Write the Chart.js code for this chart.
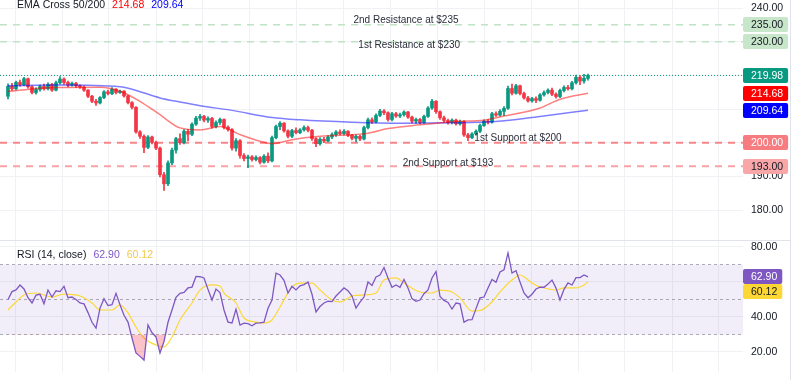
<!DOCTYPE html>
<html>
<head>
<meta charset="utf-8">
<script src="https://cdn.jsdelivr.net/npm/chart.js@4.4.1/dist/chart.umd.min.js"></script>
<style>
  html, body { margin: 0; padding: 0; background: #fff; }
  #wrap { width: 800px; height: 380px; overflow: hidden; }
  canvas { display: block; }
</style>
</head>
<body>
<div id="wrap">
  <canvas id="priceChart" width="800" height="240"></canvas>
  <canvas id="rsiChart" width="800" height="140"></canvas>
</div>
<script>
// daily candles, bar index 0..145
const opens = [
  213.8, 216.8, 216.0, 217.9, 217.2, 219.0, 216.6, 214.9, 215.8, 216.7,
  216.0, 217.3, 215.6, 217.8, 218.9, 217.9, 217.1, 217.6, 216.9, 216.5,
  215.6, 213.8, 212.3, 211.8, 213.4, 215.1, 214.6, 215.9, 214.9, 215.3,
  213.9, 211.9, 210.5, 203.2, 201.9, 198.6, 201.7, 200.1, 198.4, 190.5,
  187.8, 194.0, 197.8, 201.2, 200.0, 203.4, 202.5, 205.5, 207.3, 207.8,
  206.7, 207.2, 204.8, 206.0, 206.9, 204.6, 203.9, 198.4, 200.6, 196.2,
  195.3, 195.8, 195.0, 195.6, 194.2, 196.0, 194.6, 201.5, 204.8, 205.8,
  203.5, 201.9, 203.6, 203.0, 203.8, 204.5, 203.7, 201.2, 199.7, 201.0,
  200.5, 201.7, 202.4, 203.2, 202.7, 203.4, 202.2, 201.3, 201.9, 201.1,
  204.5, 206.8, 206.2, 208.1, 209.4, 208.9, 206.9, 208.6, 207.9, 208.3,
  209.1, 207.6, 206.4, 206.9, 206.0, 207.8, 210.3, 212.3, 209.2, 207.4,
  206.6, 206.0, 206.7, 205.6, 206.3, 202.3, 201.5, 202.6, 203.4, 205.1,
  206.4, 206.1, 208.6, 208.2, 209.3, 210.2, 216.1, 214.7, 216.9, 214.6,
  213.3, 212.4, 213.1, 212.6, 214.2, 214.9, 215.6, 214.4, 213.7, 215.5,
  216.4, 216.0, 217.8, 219.4, 218.3, 219.1
];
const highs = [
  217.5, 217.6, 218.3, 218.6, 219.4, 219.2, 216.9, 216.3, 217.1, 217.4,
  217.8, 217.6, 218.3, 219.6, 219.3, 218.3, 218.0, 217.9, 217.2, 216.8,
  215.8, 214.1, 212.9, 213.7, 215.5, 215.6, 216.4, 216.1, 215.6, 215.5,
  214.1, 212.2, 210.7, 203.6, 202.3, 202.1, 202.0, 200.5, 198.7, 191.2,
  194.6, 198.4, 201.6, 202.6, 203.9, 204.0, 205.9, 207.8, 208.4, 208.1,
  207.7, 207.5, 206.5, 207.3, 207.1, 205.0, 204.2, 201.2, 200.9, 196.8,
  196.3, 196.2, 196.1, 195.9, 196.5, 197.0, 202.0, 205.2, 206.3, 206.0,
  203.8, 204.0, 204.4, 204.2, 205.0, 204.9, 204.0, 201.5, 201.5, 201.6,
  202.1, 202.9, 203.6, 203.8, 203.9, 203.6, 202.5, 202.3, 202.2, 204.9,
  207.3, 207.4, 208.6, 209.9, 209.8, 209.2, 209.0, 209.0, 208.8, 209.5,
  209.3, 207.9, 207.3, 207.2, 208.2, 210.7, 212.9, 212.5, 209.5, 207.9,
  207.0, 207.1, 207.0, 206.7, 206.6, 202.8, 203.0, 203.8, 205.5, 206.8,
  206.9, 209.0, 209.2, 209.8, 210.7, 216.8, 217.4, 217.3, 217.1, 215.0,
  213.8, 213.5, 213.6, 214.6, 215.4, 216.0, 216.2, 214.8, 215.9, 216.9,
  217.0, 218.2, 220.1, 219.9, 220.3, 220.4
];
const lows = [
  213.0, 215.5, 215.7, 216.8, 216.9, 216.2, 214.5, 214.4, 215.3, 215.6,
  215.7, 215.2, 215.4, 217.4, 217.3, 216.6, 216.8, 216.4, 216.1, 215.2,
  213.4, 211.9, 211.1, 211.5, 213.1, 214.2, 214.3, 214.5, 214.6, 213.5,
  211.5, 210.0, 202.8, 201.3, 197.0, 198.2, 199.6, 197.9, 189.8, 185.8,
  187.2, 193.5, 196.9, 199.5, 199.6, 200.5, 202.1, 205.1, 206.6, 206.2,
  206.0, 204.3, 204.4, 205.4, 204.1, 203.4, 197.8, 197.5, 195.4, 194.6,
  192.6, 194.5, 194.6, 193.7, 193.9, 194.1, 194.3, 201.1, 203.9, 203.1,
  201.4, 201.5, 202.6, 202.7, 203.4, 203.2, 200.7, 198.8, 199.3, 200.0,
  200.2, 201.2, 201.9, 202.3, 202.3, 201.8, 200.8, 200.2, 200.6, 200.8,
  204.1, 205.7, 205.9, 207.7, 208.3, 206.4, 206.5, 207.5, 207.4, 207.9,
  207.2, 205.9, 205.8, 205.6, 205.7, 207.5, 209.9, 208.7, 206.9, 206.1,
  205.5, 205.6, 205.2, 205.2, 201.9, 200.6, 201.2, 202.2, 203.0, 204.8,
  205.6, 205.8, 207.8, 207.9, 208.0, 209.9, 214.2, 214.4, 214.2, 212.9,
  212.0, 212.0, 211.9, 212.3, 213.8, 214.5, 214.0, 213.2, 213.4, 215.1,
  215.6, 215.7, 217.4, 217.2, 217.7, 218.6
];
const closes = [
  216.8, 216.0, 217.9, 217.2, 219.0, 216.6, 214.9, 215.8, 216.7, 216.0,
  217.3, 215.6, 217.8, 218.9, 217.9, 217.1, 217.6, 216.9, 216.5, 215.6,
  213.8, 212.3, 211.8, 213.4, 215.1, 214.6, 215.9, 214.9, 215.3, 213.9,
  211.9, 210.5, 203.2, 201.9, 198.6, 201.7, 200.1, 198.4, 190.5, 187.8,
  194.0, 197.8, 201.2, 200.0, 203.4, 202.5, 205.5, 207.3, 207.8, 206.7,
  207.2, 204.8, 206.0, 206.9, 204.6, 203.9, 198.4, 200.6, 196.2, 195.3,
  195.8, 195.0, 195.6, 194.2, 196.0, 194.6, 201.5, 204.8, 205.8, 203.5,
  201.9, 203.6, 203.0, 203.8, 204.5, 203.7, 201.2, 199.7, 201.0, 200.5,
  201.7, 202.4, 203.2, 202.7, 203.4, 202.2, 201.3, 201.9, 201.1, 204.5,
  206.8, 206.2, 208.1, 209.4, 208.9, 206.9, 208.6, 207.9, 208.3, 209.1,
  207.6, 206.4, 206.9, 206.0, 207.8, 210.3, 212.3, 209.2, 207.4, 206.6,
  206.0, 206.7, 205.6, 206.3, 202.3, 201.5, 202.6, 203.4, 205.1, 206.4,
  206.1, 208.6, 208.2, 209.3, 210.2, 216.1, 214.7, 216.9, 214.6, 213.3,
  212.4, 213.1, 212.6, 214.2, 214.9, 215.6, 214.4, 213.7, 215.5, 216.4,
  216.0, 217.8, 219.4, 218.3, 219.1, 219.98
];

// EMA 50 / EMA 200, read at these bar indexes
const ema50Idx = [0, 8, 14, 23, 28, 33, 38, 43, 48, 53, 58, 63, 66, 71, 78, 90, 95, 103, 112, 119, 124, 133, 138, 145];
const ema50Val = [215.2, 216.2, 216.4, 216.5, 215.3, 212.3, 208.3, 204.4, 203.8, 204.8, 202.4, 200.4, 199.7, 200.9, 201.9, 202.8, 204.2, 205.3, 206.3, 206.7, 207.9, 210.3, 212.9, 214.68];
const ema200Idx = [0, 13, 28, 31, 38, 43, 48, 56, 66, 73, 86, 98, 111, 121, 133, 145];
const ema200Val = [216.9, 217.1, 216.6, 215.9, 213.3, 212.1, 211.0, 209.6, 207.5, 206.8, 206.1, 205.8, 205.9, 206.2, 207.8, 209.64];

// support / resistance levels
const levels = [235, 230, 200, 193];
const levelNames = ['2nd Resistance at $235', '1st Resistance at $230', '1st Support at $200', '2nd Support at $193'];

// RSI(14) per bar, and its moving average read at these bar indexes
const rsiValues = [
  50, 54.5, 55.5, 58.3, 56, 51, 48, 52.5, 53, 47.5,
  55.4, 51.4, 55, 54.5, 57.5, 51, 51.4, 50, 48, 47.5,
  42.5, 37, 33.7, 45.1, 50.5, 46.5, 47, 53.5, 47, 41,
  37.1, 28, 19.5, 17.5, 15.4, 35.4, 31, 28.6, 19.4, 26,
  37, 44, 51.2, 53.5, 54, 56.6, 57.1, 63.2, 63, 62.3,
  55.8, 49.7, 56, 54, 44, 37.1, 36.6, 44.5, 35.4, 36.5,
  36.2, 35, 36.5, 36.6, 37, 45, 49.7, 65, 64, 61,
  53.7, 57.5, 55.5, 57.8, 58.5, 60, 53, 42.9, 46, 48,
  49, 48.8, 52, 54.3, 56.6, 55, 52, 45.1, 48.5, 51.4,
  60, 58, 62.9, 64, 68.3, 62.3, 57, 58.3, 57, 61.5,
  56.6, 50.5, 49, 49.7, 53.3, 55.5, 62.3, 66, 51.8, 49.5,
  48.3, 44.5, 48, 47.5, 37, 38.3, 38.5, 44.8, 50.9, 51.4,
  56.6, 61.4, 59.8, 65.7, 67, 76.6, 65.1, 66.5, 60, 53.7,
  51, 53, 56, 57.1, 57, 58.8, 61.1, 56.5, 49.7, 55.8,
  59.5, 58.3, 62.5, 62.5, 64, 62.9
];
const rsiMaIdx = [0, 2, 4, 7, 11, 14, 18, 21, 23, 26, 28, 30, 32, 34, 37, 39, 41, 43, 46, 48, 51, 53, 54, 57, 59, 62, 64, 66, 68, 71, 73, 76, 78, 81, 83, 86, 89, 92, 94, 97, 99, 103, 106, 108, 111, 113, 116, 118, 121, 123, 126, 128, 129, 131, 133, 134, 137, 139, 142, 144, 145];
const rsiMaVal = [44, 48.6, 52.6, 53.7, 51.4, 53.1, 52, 48, 44, 44, 46.9, 42.3, 34.3, 28, 24, 22.9, 28.6, 38.3, 48, 55.4, 58.3, 57.7, 53.7, 48, 39.4, 37.1, 36.6, 38.3, 45.7, 57.1, 59.4, 59.4, 55.4, 49.7, 48.6, 52, 52.6, 53.7, 61.1, 62.3, 59.4, 54.3, 53.7, 55.4, 54.3, 50.9, 43.4, 43.7, 48.6, 54.3, 61.1, 64, 63, 59.4, 57.1, 56.6, 55.4, 56.6, 56.6, 58.3, 60.12];
const rsiLevels = [70, 50, 30];

// month boundaries (bar index) for the vertical grid
const monthTicks = [1.8, 13.5, 25.2, 37, 48.7, 60.4, 72.2, 83.9, 95.6, 107.3, 119.1, 130.8, 142.5, 154.2, 166, 177.7];

const UP = '#089981';
const DOWN = '#f23645';
const FONT = '"Liberation Sans", Arial, sans-serif';
const X_MIN = -2, X_MAX = 183.75;
const AXIS_W = 57;
Chart.defaults.font.family = FONT;

const last = arr => arr[arr.length - 1];
const pts = (idx, val) => idx.map((x, i) => ({ x: x, y: val[i] }));
const flat = v => [{ x: X_MIN, y: v }, { x: X_MAX, y: v }];
const candleColor = c => closes[c.dataIndex] >= opens[c.dataIndex] ? UP : DOWN;

function xScaleOpts() {
  return {
    type: 'linear', min: X_MIN, max: X_MAX, offset: false,
    afterBuildTicks: ax => { ax.ticks = monthTicks.map(v => ({ value: v })); },
    afterFit: s => { s.height = 0; s.paddingLeft = 0; s.paddingRight = 0; },
    ticks: { display: false },
    grid: { color: '#eff1f5', drawTicks: false, offset: false },
    border: { display: false }
  };
}

function yScaleOpts(min, max, step) {
  return {
    position: 'right', min: min, max: max,
    // fixed price-scale width, and no extra room above/below for the labels
    afterFit: s => { s.width = AXIS_W; s.paddingTop = 0; s.paddingBottom = 0; },
    ticks: { stepSize: step, includeBounds: false, padding: 8, color: '#131722', font: { size: 10.5 }, callback: v => v.toFixed(2) },
    grid: { color: '#eff1f5', drawTicks: false },
    border: { display: false }
  };
}

function tag(ctx, left, yc, text, bg, fg) {
  ctx.font = '10.5px ' + FONT;
  const w = ctx.measureText(text).width;
  const h = 15;
  const top = Math.round(yc - h / 2);
  ctx.fillStyle = bg;
  ctx.beginPath();
  if (ctx.roundRect) ctx.roundRect(left, top, w + 13, h, 2);
  else ctx.rect(left, top, w + 13, h);
  ctx.fill();
  ctx.fillStyle = fg;
  ctx.textAlign = 'left';
  ctx.textBaseline = 'middle';
  ctx.fillText(text, left + 8, top + h / 2 + 0.5);
}

function legend(ctx, x, y, parts) {
  ctx.font = '10.5px ' + FONT;
  ctx.textAlign = 'left';
  ctx.textBaseline = 'alphabetic';
  parts.forEach(p => {
    ctx.fillStyle = p[1];
    ctx.fillText(p[0], x, y);
    x += ctx.measureText(p[0]).width + 7;
  });
}

// where the level captions sit: bar index of centre, price of baseline
const levelCaption = [
  { at: 99.5, base: 235.6 },
  { at: 100.3, base: 228.1 },
  { at: 127.5, base: 200.4 },
  { at: 110, base: 193.15 }
];

const priceDecor = {
  id: 'priceDecor',
  afterDatasetsDraw(chart) {
    const { ctx, chartArea, scales: { x, y } } = chart;
    ctx.save();
    ctx.font = '10px ' + FONT;
    ctx.fillStyle = '#2a2e39';
    ctx.textAlign = 'center';
    ctx.textBaseline = 'alphabetic';
    levelNames.forEach((t, i) => {
      ctx.fillText(t, x.getPixelForValue(levelCaption[i].at), y.getPixelForValue(levelCaption[i].base));
    });
    legend(ctx, 17, 7.5, [
      ['EMA Cross 50/200', '#131722'],
      [last(ema50Val).toFixed(2), '#ff0000'],
      [last(ema200Val).toFixed(2), '#0000ff']
    ]);
    const L = chartArea.right;
    tag(ctx, L, y.getPixelForValue(levels[0]), levels[0].toFixed(2), '#c8e6c9', '#131722');
    tag(ctx, L, y.getPixelForValue(levels[1]), levels[1].toFixed(2), '#c8e6c9', '#131722');
    tag(ctx, L, y.getPixelForValue(last(closes)), last(closes).toFixed(2), UP, '#ffffff');
    tag(ctx, L, y.getPixelForValue(last(ema50Val)), last(ema50Val).toFixed(2), '#ff0000', '#ffffff');
    tag(ctx, L, y.getPixelForValue(last(ema200Val)), last(ema200Val).toFixed(2), '#0000ff', '#ffffff');
    tag(ctx, L, y.getPixelForValue(levels[2]), levels[2].toFixed(2), '#f77c80', '#ffffff');
    tag(ctx, L, y.getPixelForValue(levels[3]), levels[3].toFixed(2), '#f9a6a9', '#131722');
    ctx.strokeStyle = '#e0e3eb';
    ctx.lineWidth = 1;
    ctx.beginPath();
    ctx.moveTo(790.5, 0);
    ctx.lineTo(790.5, chart.height);
    ctx.stroke();
    ctx.restore();
  }
};

new Chart(document.getElementById('priceChart'), {
  type: 'bar',
  data: {
    datasets: [
      { type: 'line', data: flat(levels[0]), borderColor: '#bfe3c4', borderWidth: 1.5, borderDash: [7, 6], pointRadius: 0, order: 5 },
      { type: 'line', data: flat(levels[1]), borderColor: '#bfe3c4', borderWidth: 1.5, borderDash: [7, 6], pointRadius: 0, order: 5 },
      { type: 'line', data: flat(levels[2]), borderColor: '#f6868a', borderWidth: 2, borderDash: [7, 6], pointRadius: 0, order: 5 },
      { type: 'line', data: flat(levels[3]), borderColor: '#f8a3a6', borderWidth: 2, borderDash: [7, 6], pointRadius: 0, order: 5 },
      { type: 'line', data: flat(last(closes)), borderColor: UP, borderWidth: 1, borderDash: [1, 2], pointRadius: 0, order: 5 },
      {
        data: closes.map((c, i) => ({ x: i, y: [lows[i], highs[i]] })),
        backgroundColor: candleColor, barThickness: 1, grouped: false, borderWidth: 0, order: 2
      },
      {
        data: closes.map((c, i) => ({ x: i, y: [opens[i], c] })),
        backgroundColor: candleColor, barThickness: 3, grouped: false, borderWidth: 0, minBarLength: 1, order: 1
      },
      { type: 'line', data: pts(ema50Idx, ema50Val), borderColor: 'rgba(255,0,0,0.5)', borderWidth: 1.5, pointRadius: 0, cubicInterpolationMode: 'monotone', order: 0 },
      { type: 'line', data: pts(ema200Idx, ema200Val), borderColor: 'rgba(0,0,255,0.5)', borderWidth: 1.5, pointRadius: 0, cubicInterpolationMode: 'monotone', order: 0 }
    ]
  },
  options: {
    responsive: false,
    devicePixelRatio: 1,
    animation: false,
    layout: { padding: 0, autoPadding: false },
    plugins: { legend: { display: false }, tooltip: { enabled: false } },
    scales: {
      x: xScaleOpts(),
      y: yScaleOpts(171.1, 242.38, 10)
    }
  },
  plugins: [priceDecor]
});

const rsiDecor = {
  id: 'rsiDecor',
  afterDatasetsDraw(chart) {
    const { ctx, chartArea, scales: { y } } = chart;
    ctx.save();
    legend(ctx, 17, 17.5, [
      ['RSI (14, close)', '#131722'],
      [last(rsiValues).toFixed(2), '#7e57c2'],
      [last(rsiMaVal).toFixed(2), '#f2c94c']
    ]);
    const L = chartArea.right;
    const y1 = y.getPixelForValue(last(rsiValues));
    let y2 = y.getPixelForValue(last(rsiMaVal));
    if (Math.abs(y2 - y1) < 15) y2 = y1 + 15;
    tag(ctx, L, y1, last(rsiValues).toFixed(2), '#7e57c2', '#ffffff');
    tag(ctx, L, y2, last(rsiMaVal).toFixed(2), '#fdd835', '#131722');
    ctx.strokeStyle = '#e0e3eb';
    ctx.lineWidth = 1;
    ctx.beginPath();
    ctx.moveTo(0, 0.5);
    ctx.lineTo(790, 0.5);
    ctx.moveTo(790.5, 0);
    ctx.lineTo(790.5, chart.height);
    ctx.stroke();
    ctx.restore();
  }
};

const bandLine = v => ({ type: 'line', data: flat(v), borderColor: 'rgba(120,123,134,0.6)', borderWidth: 1, borderDash: [3, 3], pointRadius: 0, order: 5 });

new Chart(document.getElementById('rsiChart'), {
  type: 'line',
  data: {
    datasets: [
      Object.assign(bandLine(rsiLevels[0]), { fill: '+1', backgroundColor: 'rgba(126,87,194,0.1)' }),
      bandLine(rsiLevels[2]),
      bandLine(rsiLevels[1]),
      {
        data: rsiValues.map((v, i) => ({ x: i, y: v })),
        borderColor: '#7e57c2', borderWidth: 1.3, pointRadius: 0, order: 1,
        fill: { target: { value: rsiLevels[2] }, above: 'rgba(0,0,0,0)', below: 'rgba(242,54,69,0.3)' }
      },
      {
        data: pts(rsiMaIdx, rsiMaVal),
        borderColor: '#fdd835', borderWidth: 1.2, pointRadius: 0, cubicInterpolationMode: 'monotone', order: 2
      }
    ]
  },
  options: {
    responsive: false,
    devicePixelRatio: 1,
    animation: false,
    layout: { padding: { top: 0, left: 0, right: 0, bottom: 8 }, autoPadding: false },
    plugins: { legend: { display: false }, tooltip: { enabled: false } },
    scales: {
      x: xScaleOpts(),
      y: yScaleOpts(8.57, 84, 20)
    }
  },
  plugins: [rsiDecor]
});
</script>
</body>
</html>
